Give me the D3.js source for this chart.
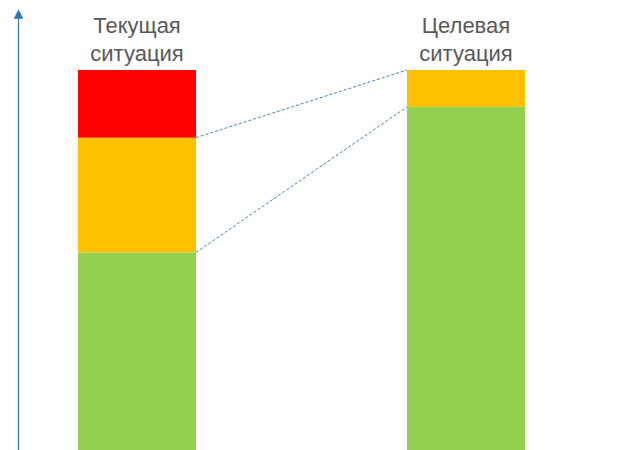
<!DOCTYPE html>
<html>
<head>
<meta charset="utf-8">
<script src="https://cdn.jsdelivr.net/npm/d3@7"></script>
<style>
  body { margin: 0; background: #fff; }
  text { font-family: Arial, "Liberation Sans", sans-serif; }
</style>
</head>
<body>
<div id="chart"></div>
<script>
var width = 638, height = 450;

// data
var categories = ["Текущая ситуация", "Целевая ситуация"];
var labelLines = [["Текущая", "ситуация"], ["Целевая", "ситуация"]];
var segments = ["green", "orange", "red"];
var greenValues = [52, 90.3];
var orangeValues = [30.2, 9.7];
var redValues = [17.8, 0];
var colors = { green: "#92d050", orange: "#ffc000", red: "#ff0000" };

var rows = categories.map(function(c, i) {
  return { cat: c, green: greenValues[i], orange: orangeValues[i], red: redValues[i] };
});
var stack = d3.stack().keys(segments)(rows);

var svg = d3.select("#chart").append("svg")
  .attr("width", width).attr("height", height);

// bar centres, bars are 118px wide
var x = d3.scalePoint().domain(categories).range([137, 466]);
var barW = 118;
var y = d3.scaleLinear().domain([0, 100]).range([450, 70]);

// axis line with arrow
svg.append("defs").append("marker")
  .attr("id", "arr").attr("viewBox", "0 0 10 10")
  .attr("refX", 5).attr("refY", 5)
  .attr("markerWidth", 8).attr("markerHeight", 8)
  .attr("orient", "auto")
  .append("path").attr("d", "M0,0 L10,5 L0,10 z").attr("fill", "#2e75b6");

svg.append("line")
  .attr("x1", 18.5).attr("x2", 18.5)
  .attr("y1", 452).attr("y2", 14)
  .attr("stroke", "#2e75b6").attr("stroke-width", 1.2)
  .attr("marker-end", "url(#arr)");

// bars
svg.selectAll("g.layer").data(stack).enter()
  .append("g").attr("class", "layer")
  .attr("fill", function(d) { return colors[d.key]; })
  .selectAll("rect").data(function(d) { return d; }).enter()
  .append("rect")
  .attr("x", function(d) { return x(d.data.cat) - barW / 2; })
  .attr("width", barW)
  .attr("y", function(d) { return y(d[1]); })
  .attr("height", function(d) { return y(d[0]) - y(d[1]); });

// dashed connectors: tops of green and orange in bar 1 -> bar 2
var c1 = rows[0], c2 = rows[1];
var links = [
  [c1.green + c1.orange, c2.green + c2.orange],
  [c1.green, c2.green]
];
svg.selectAll("line.link").data(links).enter()
  .append("line").attr("class", "link")
  .attr("x1", x(categories[0]) + barW / 2)
  .attr("x2", x(categories[1]) - barW / 2)
  .attr("y1", function(d) { return y(d[0]); })
  .attr("y2", function(d) { return y(d[1]); })
  .attr("stroke", "#4a7eb5").attr("stroke-width", 1)
  .attr("stroke-dasharray", "3,2");

// labels
categories.forEach(function(c, i) {
  var t = svg.append("text")
    .attr("text-anchor", "middle")
    .attr("fill", "#595959")
    .attr("font-size", 22);
  labelLines[i].forEach(function(l, j) {
    t.append("tspan").attr("x", x(c)).attr("y", 32.5 + j * 28).text(l);
  });
});
</script>
</body>
</html>
